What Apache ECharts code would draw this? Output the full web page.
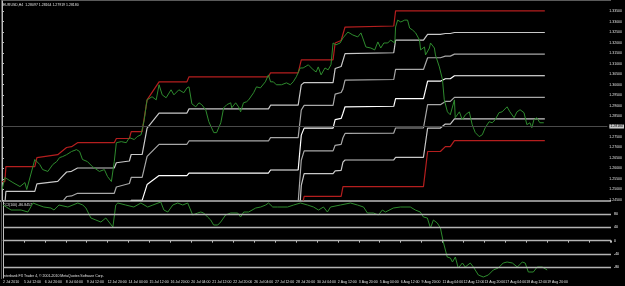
<!DOCTYPE html>
<html>
<head>
<meta charset="utf-8">
<title>EURUSD,H4</title>
<script src="https://cdn.jsdelivr.net/npm/echarts@6/dist/echarts.min.js"></script>
<style>
  html, body { margin: 0; padding: 0; background: #000; }
  #chart { width: 625px; height: 286px; }
</style>
</head>
<body>
<div id="chart"></div>
<script>
// x values are H4 bar numbers counted from 2 Jul 2010 00:00
const timeLabels = [
  '2 Jul 2010', '5 Jul 12:00', '6 Jul 20:00', '8 Jul 04:00', '9 Jul 12:00', '12 Jul 20:00',
  '14 Jul 04:00', '15 Jul 12:00', '16 Jul 20:00', '20 Jul 04:00', '21 Jul 12:00', '22 Jul 20:00',
  '26 Jul 04:00', '27 Jul 12:00', '28 Jul 20:00', '30 Jul 04:00', '2 Aug 12:00', '3 Aug 20:00',
  '5 Aug 04:00', '6 Aug 12:00', '9 Aug 20:00', '11 Aug 04:00', '12 Aug 12:00', '13 Aug 20:00',
  '17 Aug 04:00', '18 Aug 12:00', '19 Aug 20:00'
];

// close price line [bar, price]
const closeLine = [
  [0, 1.2500], [1.1, 1.2557], [4.2, 1.2533], [6.9, 1.2514], [8.8, 1.2533], [9.5, 1.2500],
  [12.6, 1.2643], [14.5, 1.2619], [15.6, 1.2595], [17.6, 1.2586], [19.5, 1.2619], [21, 1.2633],
  [22.1, 1.2652], [23.3, 1.2657], [24.8, 1.2666], [26.7, 1.2681], [28.6, 1.2690], [29.8, 1.2681],
  [30.9, 1.2643], [32.8, 1.2633], [34.7, 1.2609], [37.4, 1.2586], [39.3, 1.2595], [40.5, 1.2562],
  [42, 1.2538], [43.1, 1.2633], [43.9, 1.2723], [45.8, 1.2728], [47.7, 1.2723], [48.9, 1.2747],
  [49.6, 1.2752], [50.8, 1.2738], [51.9, 1.2752], [53.4, 1.2761], [54.6, 1.2832], [55.3, 1.2894],
  [55.7, 1.2927], [57.6, 1.2942], [59.2, 1.2927], [60.3, 1.2999], [61.5, 1.2951], [63, 1.2937],
  [64.9, 1.2975], [66, 1.2951], [67.9, 1.2975], [69.8, 1.2961], [71, 1.2984], [71.8, 1.2989],
  [72.9, 1.2908], [74.4, 1.2894], [75.6, 1.2913], [76.7, 1.2904], [78.2, 1.2880], [79.4, 1.2823],
  [81.3, 1.2771], [82.4, 1.2771], [84, 1.2818], [85.1, 1.2889], [86.3, 1.2904], [87.8, 1.2913],
  [88.2, 1.2889], [89.7, 1.2913], [90.8, 1.2894], [91.6, 1.2870], [92.7, 1.2913], [93.9, 1.2918],
  [94.7, 1.2927], [96.6, 1.2961], [97.7, 1.2989], [99.2, 1.2984], [101.1, 1.3013], [102.3, 1.3046],
  [103.1, 1.3013], [104.2, 1.3013], [105.3, 1.2999], [107.3, 1.2999], [109.2, 1.3008], [110.7, 1.2999],
  [111.8, 1.3013], [113, 1.3037], [114.5, 1.3079], [115.6, 1.3079], [117.6, 1.3094], [119.5, 1.3070],
  [120.6, 1.3060], [121.4, 1.3084], [122.5, 1.3046], [124, 1.3079], [125.2, 1.3070], [126.3, 1.3094],
  [127.1, 1.3198], [128.2, 1.3189], [129.8, 1.3198], [130.9, 1.3222], [132.8, 1.3250], [134.7, 1.3236],
  [136.6, 1.3227], [137.8, 1.3246], [138.5, 1.3222], [139.7, 1.3179], [141.6, 1.3174], [143.1, 1.3165],
  [144.3, 1.3203], [145.4, 1.3174], [146.6, 1.3198], [148.1, 1.3198], [149.2, 1.3212], [150.8, 1.3198],
  [151.1, 1.3274], [151.9, 1.3307], [153.1, 1.3298], [154.6, 1.3307], [155.7, 1.3307], [156.5, 1.3269],
  [157.6, 1.3260], [158.8, 1.3246], [160.3, 1.3212], [160.7, 1.3165], [162.2, 1.3179], [162.6, 1.3141],
  [164.1, 1.3174], [164.5, 1.3198], [166, 1.3174], [166.4, 1.3141], [167.9, 1.3084], [169.1, 1.3024],
  [169.8, 1.2927], [171, 1.2870], [172.1, 1.2856], [173.7, 1.2927], [174, 1.2842], [175.6, 1.2870],
  [176.7, 1.2832], [177.9, 1.2856], [179.4, 1.2870], [180.5, 1.2809], [181.7, 1.2771], [183.2, 1.2752],
  [184.4, 1.2761], [185.5, 1.2794], [187, 1.2823], [188.2, 1.2818], [189.3, 1.2832], [190.8, 1.2866],
  [192, 1.2870], [192.7, 1.2866], [193.9, 1.2894], [195, 1.2870], [196.6, 1.2842], [197.7, 1.2870],
  [198.9, 1.2880], [200.4, 1.2866], [201.5, 1.2809], [202.7, 1.2818], [203.4, 1.2794], [204.2, 1.2832],
  [205.3, 1.2842], [206.5, 1.2818], [208, 1.2818]
];

// price channel [bar, upper, lower]; the white levels split it in sixths
const channelRows = [
  [0, 1.2538, 1.1900], [1.1, 1.2538, 1.1900], [1.5, 1.2609, 1.1900], [12.6, 1.2609, 1.1900],
  [13.4, 1.2652, 1.1900], [21.4, 1.2666, 1.1900], [22.9, 1.2681, 1.1950], [24.8, 1.2700, 1.2000],
  [26.7, 1.2704, 1.2000], [29, 1.2723, 1.2000], [43.1, 1.2723, 1.2000], [43.9, 1.2743, 1.2050],
  [48.9, 1.2743, 1.2100], [49.6, 1.2776, 1.2120], [53.8, 1.2776, 1.2120], [55.7, 1.2927, 1.2120],
  [60.3, 1.3013, 1.2120], [71, 1.3013, 1.2120], [71.8, 1.3037, 1.2120], [102.3, 1.3037, 1.2120],
  [103.1, 1.3056, 1.2130], [113.7, 1.3056, 1.2130], [114.9, 1.3118, 1.2400], [116, 1.3118, 1.2467],
  [127.1, 1.3118, 1.2467], [127.9, 1.3198, 1.2467], [130.2, 1.3210, 1.2467], [130.9, 1.3212, 1.2514],
  [131.7, 1.3274, 1.2514], [150.4, 1.3279, 1.2514], [151.1, 1.3351, 1.2514], [161.8, 1.3351, 1.2514],
  [163.4, 1.3351, 1.2681], [168.3, 1.3351, 1.2681], [170.2, 1.3351, 1.2704], [172.1, 1.3351, 1.2704],
  [173.7, 1.3351, 1.2733], [208.4, 1.3351, 1.2733]
];
const levelColors = ['#c8c8c8', '#a8a8a8', '#ffffff', '#a8a8a8', '#c8c8c8'];

// oscillator pane [bar, value]
const oscLine = [
  [0, 107], [3.1, 92], [6.9, 92], [9.5, 86], [11.5, 113], [13.4, 107], [15.6, 101], [18.3, 98],
  [19.5, 92], [21.4, 107], [24.8, 101], [28.6, 113], [30.5, 107], [31.7, 98], [33.6, 68], [35.5, 62],
  [37.4, 56], [39.3, 68], [40.5, 56], [42, 41], [43.1, 107], [43.9, 113], [46.9, 107], [50, 101],
  [52.7, 113], [55.3, 101], [57.3, 107], [60.3, 116], [61.5, 92], [63, 86], [64.9, 107], [66.8, 113],
  [68.7, 107], [70.6, 113], [72.5, 77], [74.4, 83], [75.6, 86], [76.7, 83], [78.2, 71], [79.4, 62],
  [80.5, 47], [82.1, 47], [83.2, 56], [85.1, 77], [87, 83], [89.7, 83], [90.8, 71], [92, 86],
  [93.9, 86], [96.6, 98], [98.5, 101], [100.4, 107], [101.5, 113], [103.1, 101], [105, 101], [108.8, 101],
  [111.1, 107], [113.7, 113], [116.4, 107], [118.7, 101], [120.6, 92], [122.5, 101], [124, 86], [125.2, 101],
  [129, 107], [132.8, 113], [135.5, 107], [137.8, 101], [139.3, 83], [141.6, 83], [143.5, 77], [145, 92],
  [146.2, 86], [149.2, 98], [151.9, 101], [155.7, 101], [157.6, 92], [159.5, 86], [160.7, 71], [162.2, 68],
  [163.4, 38], [164.5, 62], [166, 53], [167.2, 38], [168.3, -4], [169.8, -49], [171, -52], [171.8, -64],
  [172.9, -49], [174, -82], [175.6, -67], [176.7, -79], [178.6, -67], [179.8, -79], [181.7, -103], [183.6, -109],
  [185.5, -103], [187.4, -88], [189.3, -82], [191.2, -67], [192.7, -64], [194.7, -67], [196.6, -79], [198.5, -64],
  [199.6, -67], [200.8, -94], [202.7, -94], [204.2, -79], [206.1, -79], [208, -88]
];
const oscLevels = [80, 40, 0, -40, -80];
const bidPrice = 1.2818;

const tiny = { fontFamily: 'Liberation Sans', fontSize: 3.5 };

const levelSeries = levelColors.map((color, i) => ({
  type: 'line',
  xAxisIndex: 0,
  yAxisIndex: 0,
  showSymbol: false,
  silent: true,
  lineStyle: { color: color, width: 1.2 },
  data: channelRows.map((r) => [r[0], r[2] + ((r[1] - r[2]) * (i + 1)) / 6]),
  z: 2
}));

const chart = echarts.init(document.getElementById('chart'));
chart.setOption({
  backgroundColor: '#000',
  animation: false,
  grid: [
    { left: 2, right: 14, top: 1, height: 199 },
    { left: 2, right: 14, top: 202, height: 76 }
  ],
  xAxis: [
    {
      type: 'value', gridIndex: 0, min: 0, max: 232.4, interval: 8,
      axisLine: { show: false }, axisTick: { show: false }, axisLabel: { show: false },
      splitLine: { show: false }
    },
    {
      type: 'value', gridIndex: 1, min: 0, max: 232.4, interval: 8,
      axisLine: { show: true, lineStyle: { color: '#808080' } },
      axisTick: { show: true, length: 2, lineStyle: { color: '#c0c0c0' } },
      axisLabel: {
        ...tiny, color: '#e0e0e0', margin: 2, align: 'left',
        formatter: (v) => timeLabels[Math.round(v / 8)] || ''
      },
      splitLine: { show: false }
    }
  ],
  yAxis: [
    {
      type: 'value', gridIndex: 0, position: 'right',
      min: 1.2450, max: 1.3398, interval: 0.005,
      axisLine: { show: true, lineStyle: { color: '#c0c0c0' } },
      axisTick: { show: true, length: 2, lineStyle: { color: '#c0c0c0' } },
      axisLabel: {
        ...tiny, color: '#e0e0e0', margin: 2, showMaxLabel: false,
        formatter: (v) => v.toFixed(5)
      },
      splitLine: { show: false }
    },
    {
      type: 'value', gridIndex: 1, position: 'right', min: -112, max: 116,
      axisLine: { show: true, lineStyle: { color: '#c0c0c0' } },
      axisTick: { show: false }, axisLabel: { show: false }, splitLine: { show: false }
    }
  ],
  graphic: [
    { type: 'rect', shape: { x: 0, y: 200, width: 611, height: 2 }, style: { fill: '#8c8c8c' }, silent: true },
    { type: 'rect', shape: { x: 1, y: 0, width: 610, height: 1 }, style: { fill: '#5a5a5a' }, silent: true },
    { type: 'rect', shape: { x: 1, y: 0, width: 1, height: 279 }, style: { fill: '#5a5a5a' }, silent: true },
    { type: 'text', left: 3, top: 3, style: { ...tiny, text: 'EURUSD,H4  1.28097 1.28164 1.27919 1.28180', fill: '#e0e0e0' } },
    { type: 'text', left: 3, top: 203, style: { ...tiny, text: 'CCI(100) -86.8457', fill: '#e0e0e0' } },
    { type: 'text', left: 3, top: 274, style: { ...tiny, text: 'Interbank FX Trader 4, \u00a9 2001-2010 MetaQuotes Software Corp.', fill: '#e0e0e0' } }
  ],
  series: [
    ...levelSeries,
    {
      type: 'line', xAxisIndex: 0, yAxisIndex: 0, showSymbol: false, silent: true,
      lineStyle: { color: '#b41e1e', width: 1.2 },
      data: channelRows.map((r) => [r[0], r[1]]), z: 3
    },
    {
      type: 'line', xAxisIndex: 0, yAxisIndex: 0, showSymbol: false, silent: true,
      lineStyle: { color: '#b41e1e', width: 1.2 },
      data: channelRows.map((r) => [r[0], r[2]]), z: 3
    },
    {
      type: 'line', xAxisIndex: 0, yAxisIndex: 0, showSymbol: false, silent: true,
      lineStyle: { color: '#2e8b2e', width: 1 },
      data: closeLine, z: 4,
      markLine: {
        silent: true, symbol: 'none',
        lineStyle: { color: '#4a4a4a', width: 1, type: 'solid' },
        label: {
          ...tiny, position: 'end', distance: 2, color: '#000', backgroundColor: '#c8c8c8',
          padding: [0, 1], formatter: () => bidPrice.toFixed(5)
        },
        data: [{ yAxis: bidPrice }]
      }
    },
    {
      type: 'line', xAxisIndex: 1, yAxisIndex: 1, showSymbol: false, silent: true,
      lineStyle: { color: '#2e8b2e', width: 1 },
      data: oscLine, z: 4,
      markLine: {
        silent: true, symbol: 'none',
        lineStyle: { color: '#b4b4b4', width: 1.3, type: 'solid' },
        label: { ...tiny, position: 'end', distance: 3, color: '#fff', formatter: (p) => String(p.value) },
        data: oscLevels.map((v) => ({ yAxis: v }))
      }
    }
  ]
});
</script>
</body>
</html>
